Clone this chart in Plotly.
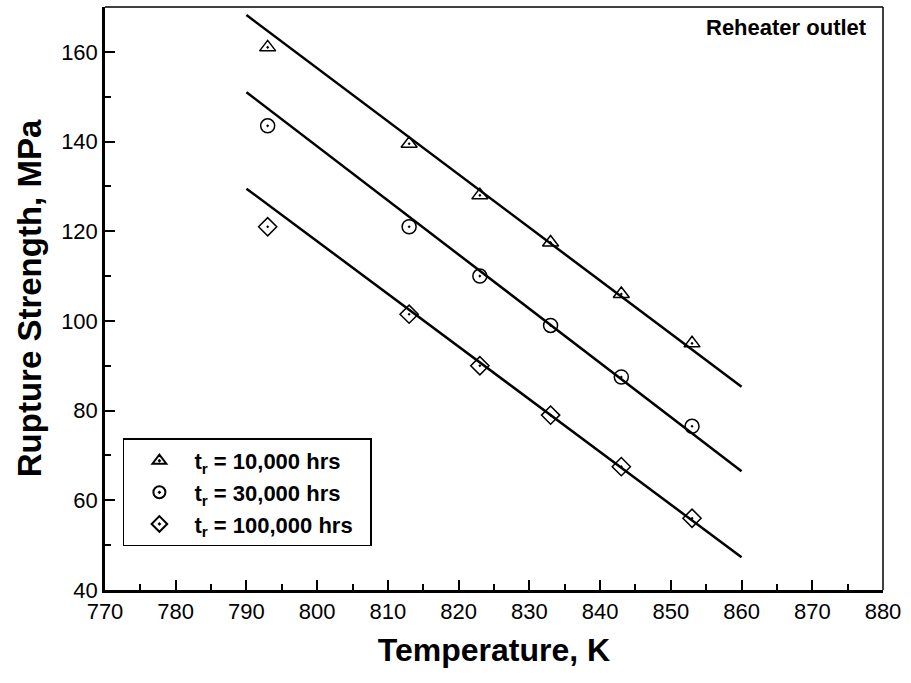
import plotly.graph_objects as go

temps = [793, 813, 823, 833, 843, 853]
s_10k = [161, 139.5, 128, 117.5, 106, 95]
s_30k = [143.5, 121, 110, 99, 87.5, 76.5]
s_100k = [121, 101.5, 90, 79, 67.5, 56]

fit_x = [790, 860]
fit_10k = [168.2, 85.3]
fit_30k = [151.0, 66.5]
fit_100k = [129.5, 47.3]

labels = ["t<sub>r</sub> = 10,000 hrs", "t<sub>r</sub> = 30,000 hrs", "t<sub>r</sub> = 100,000 hrs&nbsp;&nbsp;"]
symbols = ["triangle-up-open-dot", "circle-open-dot", "diamond-open-dot"]

fig = go.Figure()
for fy in [fit_10k, fit_30k, fit_100k]:
    fig.add_trace(go.Scatter(x=fit_x, y=fy, mode="lines", line=dict(color="black", width=2.5),
                             showlegend=False, hoverinfo="skip"))
for ys, lab, sym in zip([s_10k, s_30k, s_100k], labels, symbols):
    fig.add_trace(go.Scatter(x=temps, y=ys, mode="markers", name=lab,
                             marker=dict(symbol=sym, size=14, color="black",
                                         line=dict(color="black", width=1.5))))

font = "Liberation Sans, Arial, sans-serif"
fig.update_layout(
    width=911, height=683,
    margin=dict(l=105, r=28, t=7, b=93),
    paper_bgcolor="white", plot_bgcolor="white",
    font=dict(family=font, color="black", size=22),
    legend=dict(x=0.023, y=0.26, xanchor="left", yanchor="top",
                bordercolor="black", borderwidth=1.5, bgcolor="white",
                font=dict(size=22, family=font, weight="bold"),
                itemsizing="constant", tracegroupgap=2, itemwidth=60),
    xaxis=dict(range=[770, 880], dtick=10, tick0=770, showgrid=False, zeroline=False,
               showline=True, linecolor="black", linewidth=2.5,
               ticks="inside", ticklen=10, tickwidth=2, tickcolor="black",
               minor=dict(ticks="inside", ticklen=6, tickwidth=2, dtick=5, tickcolor="black"),
               tickfont=dict(size=22),
               title=dict(text="Temperature, K", font=dict(size=32, weight="bold"), standoff=16)),
    yaxis=dict(range=[40, 170], dtick=20, tick0=40, showgrid=False, zeroline=False,
               showline=True, linecolor="black", linewidth=2.5,
               ticks="inside", ticklen=10, tickwidth=2, tickcolor="black",
               minor=dict(ticks="inside", ticklen=6, tickwidth=2, dtick=10, tickcolor="black"),
               tickfont=dict(size=22),
               title=dict(text="Rupture Strength, MPa", font=dict(size=33, weight="bold"), standoff=10)),
    shapes=[
        dict(type="line", xref="paper", yref="paper", x0=0, x1=1, y0=1, y1=1,
             line=dict(color="black", width=1.5)),
        dict(type="line", xref="paper", yref="paper", x0=1, x1=1, y0=0, y1=1,
             line=dict(color="black", width=1.5)),
    ],
    annotations=[dict(text="<b>Reheater outlet</b>", xref="paper", yref="paper",
                      x=0.982, y=0.99, xanchor="right", yanchor="top", showarrow=False,
                      font=dict(size=22))],
)
fig.write_html("out.html")
